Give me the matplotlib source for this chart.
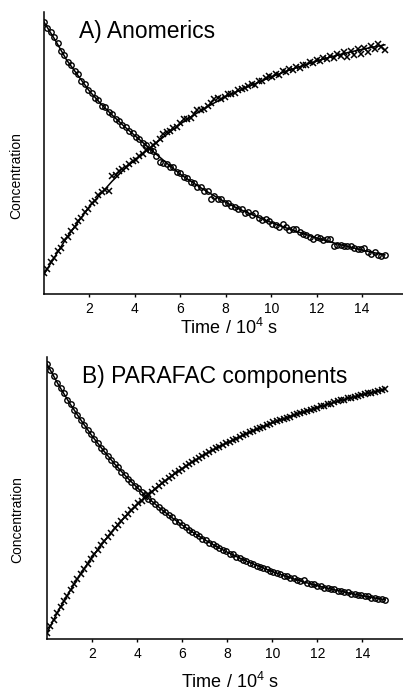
import matplotlib
matplotlib.use("Agg")
import matplotlib.pyplot as plt

plt.rcParams['font.family'] = ['Liberation Sans', 'DejaVu Sans']
plt.rcParams['mathtext.fontset'] = 'custom'
plt.rcParams['mathtext.rm'] = 'Liberation Sans'

# sampling times (10^4 s)
time = [0.0, 0.15, 0.3, 0.45, 0.6, 0.75, 0.9, 1.05, 1.2, 1.35,
        1.5, 1.65, 1.8, 1.95, 2.1, 2.25, 2.4, 2.55, 2.7, 2.85,
        3.0, 3.15, 3.3, 3.45, 3.6, 3.75, 3.9, 4.05, 4.2, 4.35,
        4.5, 4.65, 4.8, 4.95, 5.1, 5.25, 5.4, 5.55, 5.7, 5.85,
        6.0, 6.15, 6.3, 6.45, 6.6, 6.75, 6.9, 7.05, 7.2, 7.35,
        7.5, 7.65, 7.8, 7.95, 8.1, 8.25, 8.4, 8.55, 8.7, 8.85,
        9.0, 9.15, 9.3, 9.45, 9.6, 9.75, 9.9, 10.05, 10.2, 10.35,
        10.5, 10.65, 10.8, 10.95, 11.1, 11.25, 11.4, 11.55, 11.7, 11.85,
        12.0, 12.15, 12.3, 12.45, 12.6, 12.75, 12.9, 13.05, 13.2, 13.35,
        13.5, 13.65, 13.8, 13.95, 14.1, 14.25, 14.4, 14.55, 14.7, 14.85,
        15.0]

# A) anomerics (measured)
a_circ = [0.965, 0.944, 0.931, 0.912, 0.890, 0.862, 0.848, 0.823, 0.812, 0.790,
          0.779, 0.757, 0.745, 0.724, 0.713, 0.695, 0.688, 0.668, 0.662, 0.645,
          0.637, 0.621, 0.615, 0.598, 0.592, 0.577, 0.572, 0.556, 0.551, 0.535,
          0.530, 0.512, 0.509, 0.490, 0.470, 0.465, 0.462, 0.450, 0.449, 0.432,
          0.428, 0.414, 0.411, 0.397, 0.395, 0.381, 0.379, 0.366, 0.365, 0.337,
          0.349, 0.338, 0.336, 0.324, 0.322, 0.313, 0.310, 0.300, 0.301, 0.289,
          0.290, 0.279, 0.286, 0.268, 0.264, 0.266, 0.260, 0.249, 0.245, 0.239,
          0.247, 0.236, 0.226, 0.229, 0.232, 0.220, 0.212, 0.208, 0.201, 0.195,
          0.203, 0.200, 0.190, 0.196, 0.194, 0.172, 0.174, 0.173, 0.172, 0.170,
          0.171, 0.163, 0.161, 0.158, 0.162, 0.150, 0.142, 0.149, 0.138, 0.134,
          0.139]
a_cross = [0.075, 0.088, 0.112, 0.126, 0.152, 0.165, 0.190, 0.203, 0.225, 0.236,
           0.258, 0.270, 0.292, 0.302, 0.322, 0.330, 0.350, 0.362, 0.368, 0.365,
           0.418, 0.422, 0.438, 0.444, 0.452, 0.461, 0.472, 0.476, 0.491, 0.497,
           0.511, 0.516, 0.530, 0.535, 0.549, 0.568, 0.574, 0.577, 0.588, 0.591,
           0.607, 0.620, 0.622, 0.625, 0.640, 0.652, 0.653, 0.655, 0.668, 0.676,
           0.690, 0.695, 0.690, 0.700, 0.708, 0.711, 0.712, 0.723, 0.728, 0.729,
           0.739, 0.745, 0.743, 0.756, 0.754, 0.765, 0.772, 0.770, 0.780, 0.778,
           0.790, 0.788, 0.797, 0.796, 0.806, 0.803, 0.812, 0.811, 0.822, 0.819,
           0.829, 0.826, 0.836, 0.833, 0.843, 0.838, 0.850, 0.846, 0.858, 0.841,
           0.861, 0.848, 0.868, 0.852, 0.874, 0.858, 0.878, 0.870, 0.886, 0.876,
           0.866]

# B) PARAFAC components
b_circ = [0.975, 0.953, 0.932, 0.909, 0.890, 0.871, 0.849, 0.832, 0.812, 0.795,
          0.776, 0.760, 0.741, 0.727, 0.709, 0.695, 0.678, 0.665, 0.648, 0.636,
          0.620, 0.609, 0.593, 0.582, 0.568, 0.558, 0.544, 0.534, 0.520, 0.511,
          0.498, 0.490, 0.478, 0.469, 0.457, 0.450, 0.439, 0.431, 0.420, 0.414,
          0.403, 0.397, 0.387, 0.381, 0.371, 0.366, 0.356, 0.351, 0.342, 0.337,
          0.329, 0.324, 0.316, 0.312, 0.303, 0.300, 0.292, 0.288, 0.281, 0.277,
          0.270, 0.267, 0.260, 0.257, 0.250, 0.248, 0.241, 0.239, 0.233, 0.230,
          0.224, 0.222, 0.216, 0.215, 0.209, 0.207, 0.208, 0.200, 0.196, 0.194,
          0.188, 0.187, 0.182, 0.181, 0.176, 0.176, 0.171, 0.170, 0.166, 0.165,
          0.160, 0.160, 0.156, 0.155, 0.151, 0.151, 0.147, 0.146, 0.142, 0.142,
          0.138]
b_cross = [0.022, 0.045, 0.069, 0.092, 0.114, 0.134, 0.154, 0.174, 0.194, 0.213,
           0.232, 0.249, 0.267, 0.284, 0.301, 0.317, 0.333, 0.348, 0.363, 0.377,
           0.392, 0.405, 0.419, 0.432, 0.445, 0.457, 0.469, 0.481, 0.491, 0.502,
           0.513, 0.523, 0.533, 0.543, 0.552, 0.561, 0.570, 0.579, 0.587, 0.596,
           0.604, 0.612, 0.620, 0.627, 0.635, 0.642, 0.649, 0.656, 0.663, 0.669,
           0.676, 0.682, 0.688, 0.694, 0.700, 0.706, 0.711, 0.717, 0.722, 0.728,
           0.733, 0.738, 0.743, 0.748, 0.753, 0.758, 0.763, 0.768, 0.772, 0.777,
           0.781, 0.785, 0.789, 0.794, 0.798, 0.801, 0.805, 0.809, 0.813, 0.817,
           0.821, 0.825, 0.828, 0.832, 0.835, 0.839, 0.843, 0.846, 0.849, 0.853,
           0.856, 0.859, 0.862, 0.865, 0.868, 0.871, 0.874, 0.877, 0.880, 0.883,
           0.886]

# fitted curves
fit_t = [0.0, 0.5, 1.0, 1.5, 2.0, 2.5, 3.0, 3.5, 4.0, 4.5, 5.0, 5.5, 6.0, 6.5, 7.0, 7.5,
         8.0, 8.5, 9.0, 9.5, 10.0, 10.5, 11.0, 11.5, 12.0, 12.5, 13.0, 13.5, 14.0, 14.5, 15.0]
a_circ_fit = [0.965, 0.900, 0.830, 0.775, 0.720, 0.675, 0.635, 0.597, 0.562, 0.527, 0.492,
              0.458, 0.425, 0.398, 0.372, 0.348, 0.325, 0.305, 0.287, 0.270, 0.254,
              0.239, 0.225, 0.212, 0.199, 0.187, 0.176, 0.166, 0.156, 0.147, 0.139]
a_cross_fit = [0.070, 0.135, 0.200, 0.255, 0.310, 0.355, 0.400, 0.440, 0.475, 0.508, 0.540,
               0.572, 0.603, 0.630, 0.655, 0.678, 0.700, 0.718, 0.736, 0.753, 0.770,
               0.785, 0.800, 0.813, 0.826, 0.838, 0.849, 0.859, 0.868, 0.876, 0.884]
b_circ_fit = [0.975, 0.903, 0.837, 0.777, 0.720, 0.669, 0.621, 0.577, 0.537, 0.499, 0.465,
              0.433, 0.404, 0.377, 0.352, 0.329, 0.308, 0.289, 0.271, 0.255, 0.239,
              0.225, 0.212, 0.200, 0.189, 0.179, 0.170, 0.161, 0.153, 0.146, 0.139]
b_cross_fit = [0.022, 0.100, 0.168, 0.232, 0.290, 0.343, 0.392, 0.437, 0.477, 0.513, 0.546,
               0.576, 0.604, 0.630, 0.654, 0.676, 0.696, 0.715, 0.733, 0.750, 0.766,
               0.781, 0.795, 0.808, 0.821, 0.833, 0.845, 0.856, 0.866, 0.876, 0.886]

xticks = [2, 4, 6, 8, 10, 12, 14]


def panel(ax, title, circ, cross, circ_fit, cross_fit):
    ax.plot(fit_t, circ_fit, color='black', lw=1.1)
    ax.plot(fit_t, cross_fit, color='black', lw=1.1)
    ax.plot(time, circ, ls='none', marker='o', ms=3.9, mfc='none',
            mec='black', mew=1.0)
    ax.plot(time, cross, ls='none', marker='x', ms=4.5, color='black', mew=1.1)
    ax.set_xlim(0, 15.8)
    ax.set_ylim(0, 1)
    ax.set_xticks(xticks)
    ax.set_yticks([])
    ax.spines['top'].set_visible(False)
    ax.spines['right'].set_visible(False)
    ax.spines['left'].set_linewidth(1.1)
    ax.spines['bottom'].set_linewidth(1.1)
    ax.tick_params(axis='x', direction='out', length=2.5, width=1, labelsize=10, pad=3)
    ax.set_ylabel('Concentration', fontsize=10)
    ax.set_xlabel(r'Time / 10$^4$ s', fontsize=13)
    ax.text(0.097, 0.907, title, transform=ax.transAxes, fontsize=16.5, va='baseline')


fig = plt.figure(figsize=(4.03, 6.91), dpi=100)
ax1 = fig.add_axes([0.109, 0.5745, 0.891, 0.408])
ax2 = fig.add_axes([0.1166, 0.0753, 0.8834, 0.408])

panel(ax1, 'A) Anomerics', a_circ, a_cross, a_circ_fit, a_cross_fit)
panel(ax2, 'B) PARAFAC components', b_circ, b_cross, b_circ_fit, b_cross_fit)

ax1.xaxis.set_label_coords(0.515, -0.085)
ax2.xaxis.set_label_coords(0.514, -0.118)
ax1.yaxis.set_label_coords(-0.058, 0.42)
ax2.yaxis.set_label_coords(-0.065, 0.425)

fig.savefig('out.png', dpi=100)
